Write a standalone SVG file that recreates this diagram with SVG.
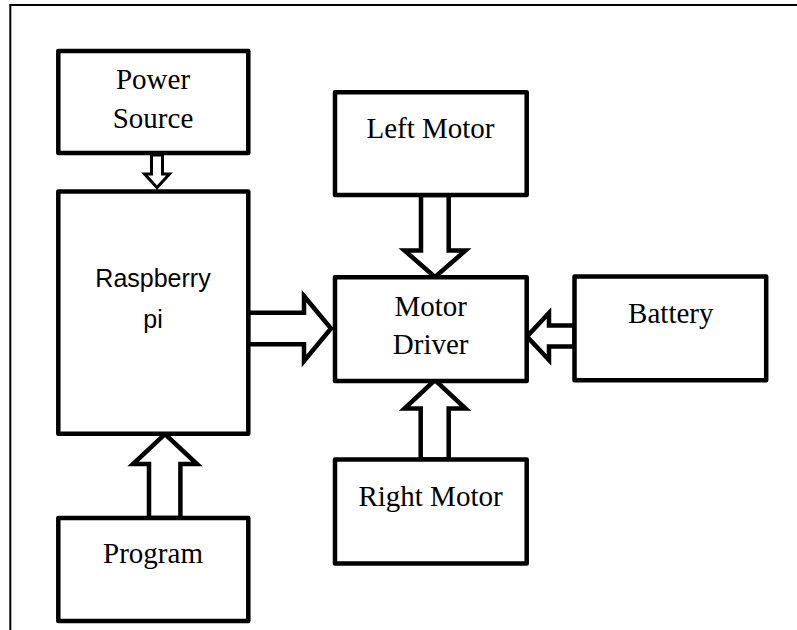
<svg xmlns="http://www.w3.org/2000/svg" width="797" height="630" viewBox="0 0 797 630">
<style>
.box{fill:#fff;stroke:#000;stroke-width:4.5;stroke-linejoin:round}
.arr{fill:#fff;stroke:#000;stroke-width:4.5;stroke-linejoin:miter;stroke-miterlimit:10}
.arr-s{fill:#fff;stroke:#000;stroke-width:3;stroke-linejoin:miter;stroke-miterlimit:10}
.t{font-family:"Liberation Serif","Times New Roman",serif;font-size:29px;fill:#000;text-anchor:middle}
.s{font-family:"Liberation Sans",Arial,sans-serif;font-size:25px;fill:#000;text-anchor:middle}
.frame{fill:none;stroke:#000;stroke-width:2}
</style>
<rect width="797" height="630" fill="#fff"/>
<path class="frame" d="M10.3,630 V5 H797"/>
<g id="connectors">
<polygon class="arr-s" points="151.5,155 151.5,174 144.5,174 157,187.5 169.5,174 162.5,174 162.5,155"/>
<polygon class="arr" points="149,518 149,464 133,464 165,434 197,464 180.4,464 180.4,518"/>
<polygon class="arr" points="248,312.8 304,312.8 304,296 331,328.5 304,361 304,344.2 248,344.2"/>
<polygon class="arr" points="421,195 421,250.5 404.5,250.5 435,277 465.5,250.5 448.7,250.5 448.7,195"/>
<polygon class="arr" points="420.7,459.5 420.7,408.5 404.5,408.5 435,380 465.5,408.5 448.7,408.5 448.7,459.5"/>
<polygon class="arr" points="574.5,325.5 549,325.5 549,313 527,336.5 549,360 549,346.5 574.5,346.5"/>
</g>
<g id="power-source">
<rect class="box" x="58.3" y="51" width="190" height="102"/>
<text class="t" x="153" y="89">Power</text>
<text class="t" x="153" y="128">Source</text>
</g>
<g id="raspberry-pi">
<rect class="box" x="58.3" y="191.5" width="190" height="242.3"/>
<text class="s" x="153" y="286.7">Raspberry</text>
<text class="s" x="153" y="327.5">pi</text>
</g>
<g id="program">
<rect class="box" x="58.3" y="518" width="190" height="103"/>
<text class="t" x="153" y="562.7">Program</text>
</g>
<g id="left-motor">
<rect class="box" x="335" y="92.3" width="191.7" height="102.7"/>
<text class="t" x="430.5" y="138.3">Left Motor</text>
</g>
<g id="motor-driver">
<rect class="box" x="335" y="277.3" width="191.7" height="103.7"/>
<text class="t" x="430.7" y="315.7">Motor</text>
<text class="t" x="430.7" y="354.3">Driver</text>
</g>
<g id="battery">
<rect class="box" x="574.5" y="276.5" width="191.7" height="103.7"/>
<text class="t" x="670.8" y="322.7">Battery</text>
</g>
<g id="right-motor">
<rect class="box" x="335" y="459.5" width="191.7" height="104"/>
<text class="t" x="430.5" y="505.7">Right Motor</text>
</g>
</svg>
